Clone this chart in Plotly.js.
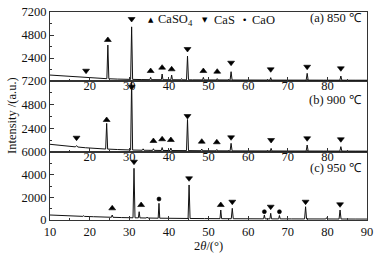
<!DOCTYPE html>
<html><head><meta charset="utf-8">
<script src="https://cdn.plot.ly/plotly-3.0.1.min.js"></script>
<style>html,body{margin:0;padding:0;background:#fff}#chart{width:376px;height:260px}</style>
</head><body><div id="chart"></div>
<script>
// ---- data ----
const thetaA = [10,12,14,16,18,18.9,19.1,19.3,22,24.35,24.6,24.85,27,30.35,30.6,30.85,33,35.2,35.4,35.6,38.1,38.3,38.5,40.5,40.7,40.9,43.0,43.2,43.4,44.45,44.7,44.95,46,48.5,48.7,48.9,52.0,52.2,52.4,55.45,55.7,55.95,60,65.5,65.7,65.9,70,74.65,74.9,75.15,79,83.15,83.4,83.65,87,90];
const intensityA = [620,560,500,440,390,360,420,355,290,240,3750,235,200,170,5650,168,150,140,380,140,135,730,135,130,620,130,125,250,125,120,2600,120,118,115,380,115,110,250,110,105,970,105,100,95,350,95,92,90,800,90,88,85,520,85,82,80];

const thetaB = [10,12,14,16.4,16.7,17.0,19,22,24.05,24.3,24.55,27,30.35,30.6,30.85,33.3,33.5,33.7,35.9,36.1,36.3,38.1,38.3,38.5,40.3,40.5,40.7,44.45,44.7,44.95,48.1,48.3,48.5,51.9,52.1,52.3,55.45,55.7,55.95,60,65.6,65.8,66.0,70,74.65,74.9,75.15,79,83.15,83.4,83.65,87,90];
const intensityB = [780,690,600,520,650,505,430,350,300,2900,295,250,205,7300,200,180,320,178,165,330,165,155,450,155,150,400,150,140,3300,140,130,300,130,120,250,120,115,880,115,110,105,370,105,100,98,710,98,95,92,540,92,90,88];

const thetaC = [10,12,14,16,18.3,18.5,18.7,21,23,25.5,25.7,25.9,28,30.95,31.2,31.45,32.3,32.5,32.7,34.3,34.5,34.7,37.3,37.5,37.7,41,44.85,45.1,45.35,49,52.9,53.1,53.3,55.75,56.0,56.25,60,63.9,64.1,64.3,65.5,65.7,65.9,67.7,67.9,68.1,71,74.25,74.5,74.75,79.6,79.8,80.0,82.95,83.2,83.45,87,90];
const intensityC = [440,410,380,350,320,380,318,290,265,240,440,238,215,195,4560,192,188,730,186,175,260,174,160,1470,160,145,135,3090,135,125,118,880,118,112,1030,112,108,102,440,102,100,590,100,98,400,98,96,93,1170,93,90,200,90,88,880,88,85,82];

// phase markers above peaks
const markA_theta = [19.1,24.6,30.6,35.4,38.3,40.7,44.7,48.7,52.2,55.7,65.7,74.9,83.4];
const markA_value = [1075,4280,6470,1040,1390,1220,3340,1040,970,1910,1220,1490,1325];
const markA_phase = ['CaS','CaSO4','CaS','CaSO4','CaSO4','CaSO4','CaS','CaSO4','CaSO4','CaS','CaS','CaS','CaS'];

const markB_theta = [16.7,24.3,30.6,36.1,38.3,40.5,44.7,48.3,52.1,55.7,65.8,74.9,83.4];
const markB_value = [1450,3245,6620,1115,1290,1215,3650,1045,985,1490,1215,1390,1290];
const markB_phase = ['CaS','CaSO4','CaS','CaSO4','CaSO4','CaSO4','CaS','CaSO4','CaSO4','CaS','CaS','CaS','CaS'];

const markC_theta = [25.7,31.2,33.0,37.5,45.1,53.1,56.0,64.1,65.7,67.9,74.5,83.2];
const markC_value = [1030,5145,1320,1850,3680,1320,1615,730,1175,730,1615,1385];
const markC_phase = ['CaSO4','CaS','CaSO4','CaO','CaS','CaSO4','CaS','CaO','CaS','CaO','CaS','CaS'];

const panelLabels = ['(a) 850 ℃','(b) 900 ℃','(c) 950 ℃'];
const xTicksAll = [10,20,30,40,50,60,70,80,90];
const xTicksInner = [20,30,40,50,60,70,80];

// ---- drawing ----
const FONT = 'Liberation Serif, Times New Roman, serif';
const INK = '#000';
const symbolOf = {CaSO4:'triangle-up', CaS:'triangle-down', CaO:'circle'};
const sizeOf = {CaSO4:6, CaS:6, CaO:4};

function lineTrace(x,y,xa,ya){
  return {x:x,y:y,xaxis:xa,yaxis:ya,type:'scatter',mode:'lines',
    line:{color:'#111',width:1},hoverinfo:'skip',showlegend:false};
}
function markTrace(x,y,ph,xa,ya){
  return {x:x,y:y,xaxis:xa,yaxis:ya,type:'scatter',mode:'markers',cliponaxis:false,
    marker:{symbol:ph.map(p=>symbolOf[p]),size:ph.map(p=>sizeOf[p]),color:INK,opacity:1,line:{width:0.6,color:INK}},
    hoverinfo:'skip',showlegend:false};
}
const data = [
  lineTrace(thetaC,intensityC,'x','y'),
  lineTrace(thetaB,intensityB,'x2','y2'),
  lineTrace(thetaA,intensityA,'x3','y3'),
  markTrace(markC_theta,markC_value,markC_phase,'x','y'),
  markTrace(markB_theta,markB_value,markB_phase,'x2','y2'),
  markTrace(markA_theta,markA_value,markA_phase,'x3','y3')
];

const H = 208; // plot height in px (t=12, b=40)
const dC = [0, 68/H], dB = [68/H, 139/H], dA = [139/H, 1];

function xax(anchor, tv, standoff){
  return {anchor:anchor, domain:[0,1], range:[10,90], tickvals:tv, ticktext:tv.map(String),
    ticks:'inside', ticklen:4, tickwidth:1, tickcolor:'#333', ticklabelstandoff:standoff,
    minor:{dtick:5, tick0:10, ticks:'inside', ticklen:2, tickcolor:'#333'},
    showline:true, mirror:true, linecolor:'#333', linewidth:1,
    showgrid:false, zeroline:false, tickfont:{family:FONT,size:12.5,color:'#111'}};
}
function yax(anchor, dom, rng, tv, minorStep){
  return {anchor:anchor, domain:dom, range:rng, tickvals:tv, ticktext:tv.map(String),
    ticks:'inside', ticklen:4, tickwidth:1, tickcolor:'#333',
    minor:{dtick:minorStep, tick0:0, ticks:'inside', ticklen:2, tickcolor:'#333'},
    showline:true, mirror:true, linecolor:'#333', linewidth:1,
    showgrid:false, zeroline:false, tickfont:{family:FONT,size:12.5,color:'#111'}};
}

function pxX(px){ return (px-50)/317; }
function pxY(py){ return (220-py)/H; }

const ann = [];
const ys = [18, 100, 168];
panelLabels.forEach((t,i)=>ann.push({text:t, xref:'paper', yref:'paper', x:pxX(364), y:pxY(ys[i]),
  xanchor:'right', yanchor:'middle', showarrow:false, font:{family:FONT,size:12.5,color:'#111'}}));
// legend row
const LY = 20;
ann.push({text:'▲', xref:'paper',yref:'paper',x:pxX(151),y:pxY(LY),xanchor:'center',yanchor:'middle',showarrow:false,font:{family:'DejaVu Sans',size:7,color:INK}});
ann.push({text:'CaSO<sub>4</sub>', xref:'paper',yref:'paper',x:pxX(156),y:pxY(LY),xanchor:'left',yanchor:'middle',showarrow:false,font:{family:FONT,size:12.5,color:'#111'}});
ann.push({text:'▼', xref:'paper',yref:'paper',x:pxX(205),y:pxY(LY),xanchor:'center',yanchor:'middle',showarrow:false,font:{family:'DejaVu Sans',size:7,color:INK}});
ann.push({text:'CaS', xref:'paper',yref:'paper',x:pxX(212),y:pxY(LY),xanchor:'left',yanchor:'middle',showarrow:false,font:{family:FONT,size:12.5,color:'#111'}});
ann.push({text:'•', xref:'paper',yref:'paper',x:pxX(244),y:pxY(LY),xanchor:'center',yanchor:'middle',showarrow:false,font:{family:'DejaVu Sans',size:9,color:INK}});
ann.push({text:'CaO', xref:'paper',yref:'paper',x:pxX(250),y:pxY(LY),xanchor:'left',yanchor:'middle',showarrow:false,font:{family:FONT,size:12.5,color:'#111'}});
// axis titles
ann.push({text:'Intensity /(a.u.)', xref:'paper',yref:'paper',x:pxX(12),y:pxY(116),xanchor:'center',yanchor:'middle',textangle:-90,showarrow:false,font:{family:FONT,size:12.5,color:'#111'}});
ann.push({text:'2<i>θ</i>/(°)', xref:'paper',yref:'paper',x:pxX(208),y:pxY(246),xanchor:'center',yanchor:'middle',showarrow:false,font:{family:FONT,size:12.5,color:'#111'}});

const layout = {
  width:376, height:260, margin:{l:50,r:9,t:12,b:40},
  paper_bgcolor:'#fff', plot_bgcolor:'#fff', showlegend:false,
  font:{family:FONT,size:12.5,color:'#111'},
  xaxis: xax('y', xTicksAll, 0),
  xaxis2: Object.assign(xax('y2', xTicksInner, -7), {matches:'x'}),
  xaxis3: Object.assign(xax('y3', xTicksInner, -7), {matches:'x'}),
  yaxis: yax('x', dC, [0,6000], [0,2000,4000,6000], 1000),
  yaxis2: yax('x2', dB, [0,7200], [2400,4800,7200], 1200),
  yaxis3: yax('x3', dA, [0,7200], [2400,4800,7200], 1200),
  annotations: ann
};
Plotly.newPlot('chart', data, layout, {staticPlot:true, displayModeBar:false});
</script>
</body></html>
